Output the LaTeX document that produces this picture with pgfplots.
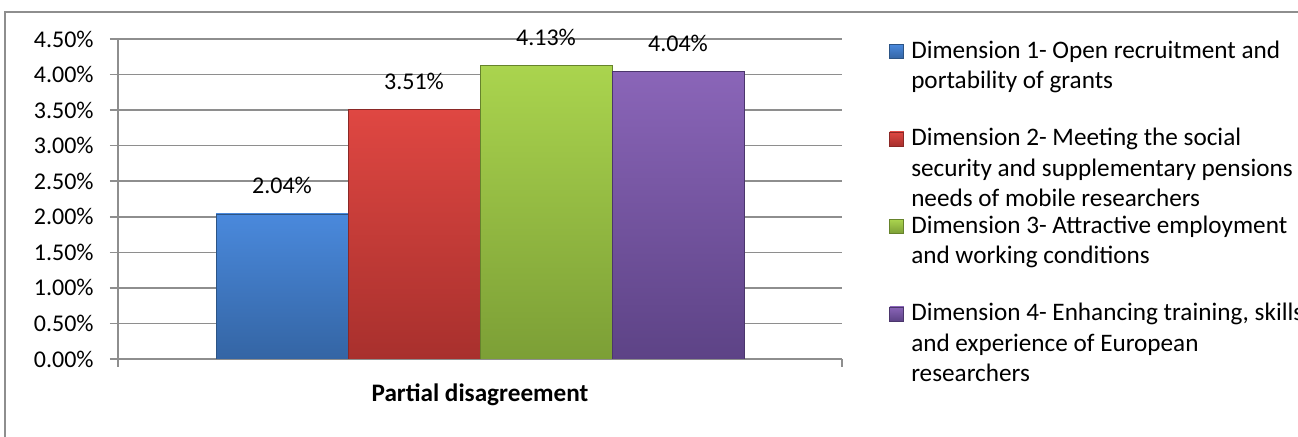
\documentclass[border=0pt]{standalone}
\usepackage{fontspec}
\setmainfont{Carlito}
\usepackage{pgfplots}
\pgfplotsset{compat=1.18}

\definecolor{gridgray}{HTML}{8E8E8E}
\definecolor{blueT}{HTML}{4A89DC}
\definecolor{blueB}{HTML}{3465A4}
\definecolor{blueD}{HTML}{2C5485}
\definecolor{redT}{HTML}{DF4742}
\definecolor{redB}{HTML}{A8302D}
\definecolor{redD}{HTML}{8A2826}
\definecolor{greenT}{HTML}{AAD44E}
\definecolor{greenB}{HTML}{7C9F36}
\definecolor{greenD}{HTML}{66832C}
\definecolor{purpT}{HTML}{8A65B8}
\definecolor{purpB}{HTML}{5D4386}
\definecolor{purpD}{HTML}{4B366C}

\newcommand{\lent}[1]{\begin{tabular}[t]{@{}l@{}}#1\end{tabular}}

\begin{document}
\fontsize{12pt}{15.25pt}\selectfont
\begin{tikzpicture}
\useasboundingbox (0,0) rectangle (649pt,218.5pt);
% outer chart frame (only left and top edges are visible)
\draw[gridgray, line width=0.75pt] (2.5pt,-1pt) |- (650pt,212.5pt);
\begin{axis}[
  at={(59pt,39pt)}, anchor=south west,
  scale only axis, width=362pt, height=160pt,
  ybar=0pt, bar width=66pt,
  xmin=-1, xmax=1, ymin=0, ymax=4.5,
  xtick={-1,1}, xticklabels={},
  ytick={0,0.5,...,4.5},
  yticklabel={\pgfmathprintnumber[fixed,fixed zerofill,precision=2]{\tick}\%},
  /pgf/number format/assume math mode=true,
  ticklabel style={font=\fontsize{12pt}{14pt}\selectfont},
  yticklabel style={xshift=-4pt},
  axis x line*=bottom, axis y line*=left,
  axis line style={gridgray, line width=0.75pt, -},
  tick style={gridgray, line width=0.75pt},
  tick align=outside, major tick length=4pt,
  ymajorgrids, grid style={gridgray, line width=0.75pt},
  xlabel={\textbf{Partial disagreement}},
  xlabel style={at={(axis description cs:0.5,0)}, anchor=center, yshift=-18pt, font=\fontsize{12.6pt}{14pt}\selectfont},
  nodes near coords={\pgfmathprintnumber[fixed,fixed zerofill,precision=2]{\pgfplotspointmeta}\%},
  every node near coord/.append style={anchor=base, yshift=10pt, inner sep=0pt, font=\fontsize{12pt}{14pt}\selectfont, text=black},
  area legend,
  legend image code/.code={\draw[#1] (0pt,0pt) rectangle (7pt,7pt);},
  legend style={at={(1.065,1.0)}, anchor=north west, draw=none, fill=none,
    inner sep=0pt, row sep=0pt, column sep=3.5pt,
    cells={anchor=base west},
    nodes={inner sep=0pt, text height=9.5pt, text depth=34.25pt,
      font=\fontsize{12.6pt}{15.25pt}\selectfont}},
]
\addplot[draw=blueD, top color=blueT, bottom color=blueB] coordinates {(0,2.04)};
\addlegendentry{\lent{Dimension 1- Open recruitment and\\portability of grants}}
\addplot[draw=redD, top color=redT, bottom color=redB] coordinates {(0,3.51)};
\addlegendentry{\lent{Dimension 2- Meeting the social\\security and supplementary pensions\\needs of mobile researchers}}
\addplot[draw=greenD, top color=greenT, bottom color=greenB] coordinates {(0,4.13)};
\addlegendentry{\lent{Dimension 3- Attractive employment\\and working conditions}}
\addplot[draw=purpD, top color=purpT, bottom color=purpB] coordinates {(0,4.04)};
\addlegendentry{\lent{Dimension 4- Enhancing training, skills\\and experience of European\\researchers}}
\end{axis}
\end{tikzpicture}
\end{document}
